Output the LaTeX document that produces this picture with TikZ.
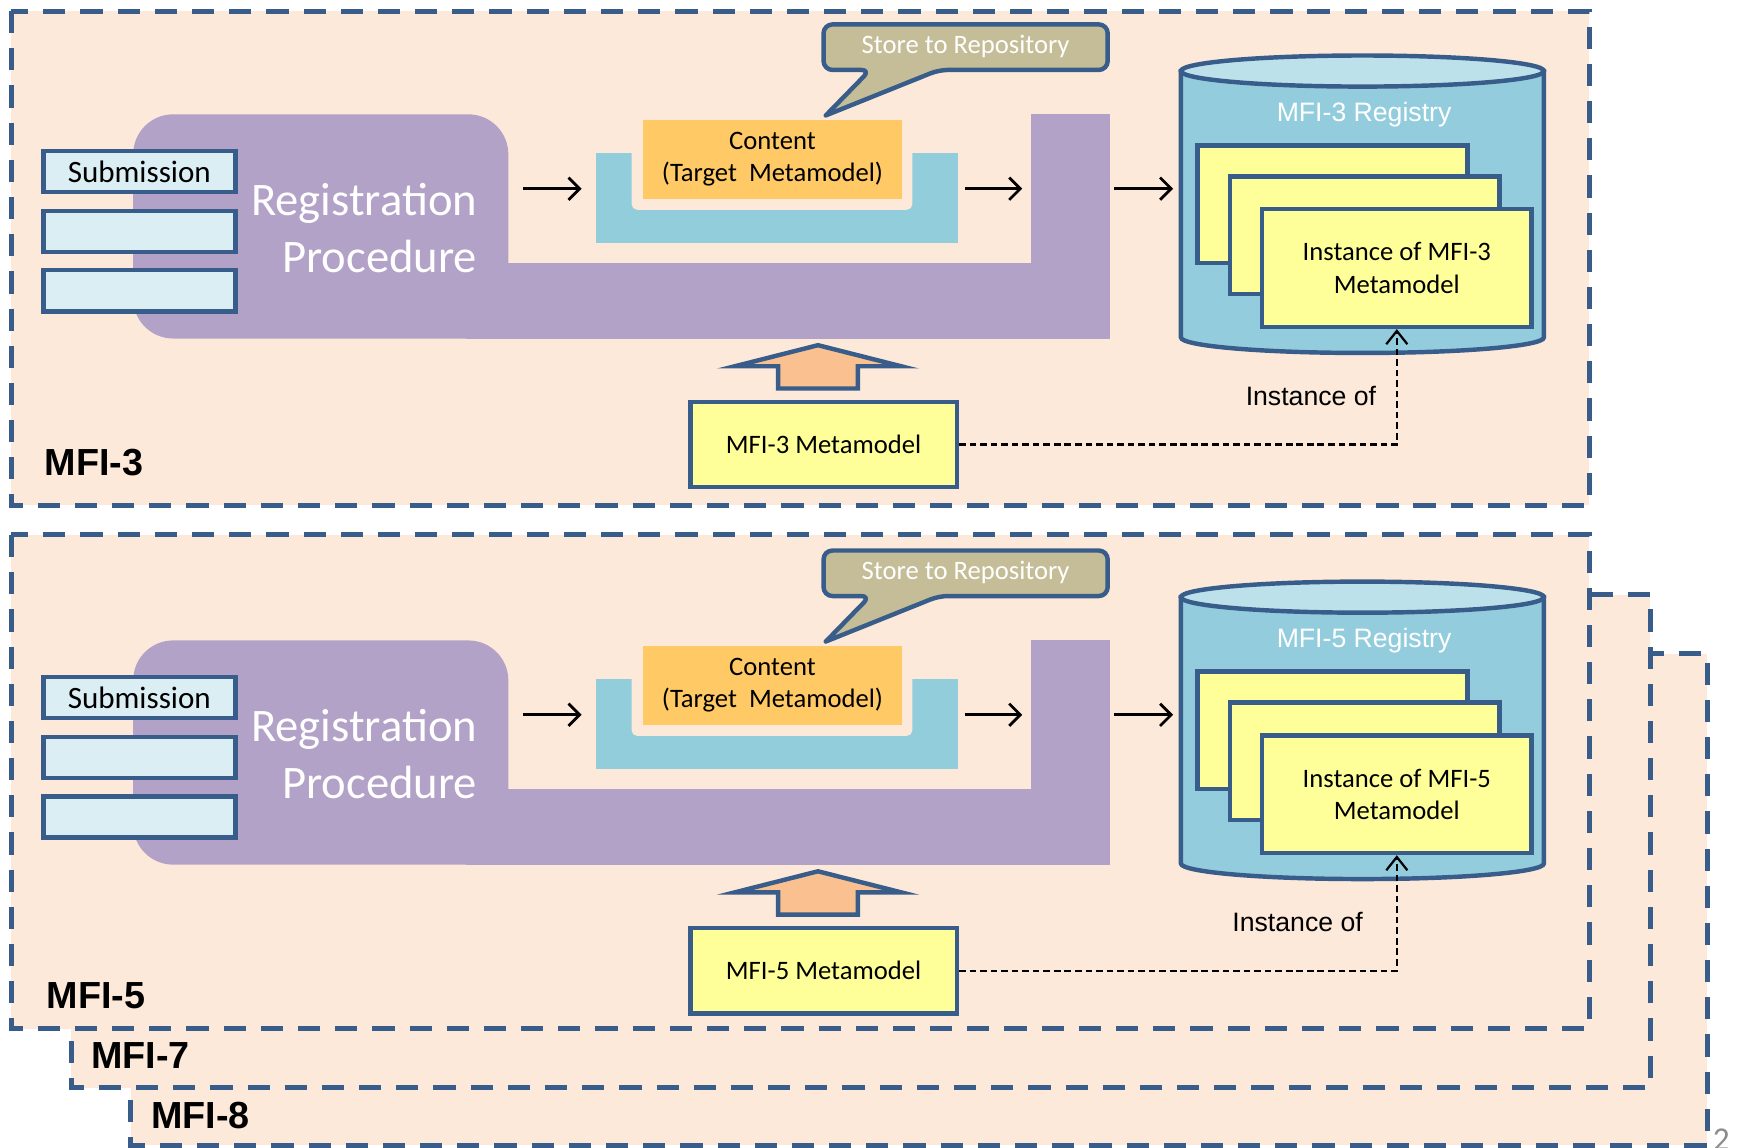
\documentclass[tikz,border=0pt]{standalone}
\usepackage{fontspec}
\setmainfont{Carlito}
\newfontfamily\arialf{Liberation Sans}
\usetikzlibrary{arrows.meta}
\definecolor{peach}{HTML}{FDE9D9}
\definecolor{bordblue}{HTML}{385D8A}
\definecolor{regpurple}{HTML}{B2A2C7}
\definecolor{subblue}{HTML}{DBEEF4}
\definecolor{ublue}{HTML}{92CDDC}
\definecolor{contorange}{HTML}{FFCA65}
\definecolor{callout}{HTML}{C4BD97}
\definecolor{yelbox}{HTML}{FFFF99}
\definecolor{arrorange}{HTML}{FAC090}
\definecolor{cylbody}{HTML}{93CDDD}
\definecolor{cyltop}{HTML}{BDE1EA}
\definecolor{pagegray}{HTML}{8C8C8C}
\tikzset{
  frame/.style={fill=peach, draw=bordblue, line width=4.5pt, dash pattern=on 20pt off 13.5pt},
  framelabel/.style={anchor=west, inner sep=0pt, font=\arialf\bfseries\fontsize{34}{40}\selectfont},
  subbox/.style={draw=bordblue, line width=4pt, fill=subblue, minimum width=173pt, minimum height=37pt, inner sep=0pt, font=\fontsize{28}{32}\selectfont},
  regtext/.style={anchor=east, align=right, inner sep=0pt, text=white, font=\fontsize{42}{51}\selectfont},
  contbox/.style={fill=contorange, minimum width=233pt, minimum height=71pt, inner sep=0pt, align=center, font=\fontsize{24}{29}\selectfont},
  storetext/.style={text=white, inner sep=0pt, font=\fontsize{24}{28}\selectfont},
  blkarrow/.style={line width=2.5pt, -{Straight Barb[length=10pt, width=20pt]}},
  cylshape/.style={fill=cylbody, draw=bordblue, line width=4pt},
  cyllabel/.style={text=white, inner sep=0pt, font=\arialf\fontsize{24}{28}\selectfont},
  instbox/.style={fill=yelbox, draw=bordblue, line width=4pt, minimum width=243pt, minimum height=106pt, inner sep=0pt, align=center, font=\fontsize{24}{29}\selectfont},
  metabox/.style={fill=yelbox, draw=bordblue, line width=4pt, minimum width=240pt, minimum height=77pt, inner sep=0pt, font=\fontsize{24}{28}\selectfont},
  blockarrow/.style={fill=arrorange, draw=bordblue, line width=4pt, line join=miter},
  dashconn/.style={line width=2pt, dash pattern=on 6pt off 3.5pt, -{Straight Barb[length=12pt, width=19pt]}},
  instlabel/.style={anchor=east, inner sep=0pt, font=\arialf\fontsize{24}{28}\selectfont}
}
\newcommand{\mfipanel}[4]{%
\begin{scope}[shift={(0,#1)}]
  % registration procedure shape
  \fill[regpurple, rounded corners=36pt] (120,103) rectangle (458,305);
  \fill[regpurple] (420,237) rectangle (1000,305);
  \fill[regpurple] (929,103) rectangle (1000,305);
  \node[regtext] (#2reg) at (430,205.5) {Registration\\Procedure};
  % submission boxes
  \node[subbox] (#2sub1) at (125.5,154.5) {Submission};
  \node[subbox] (#2sub2) at (125.5,208.5) {};
  \node[subbox] (#2sub3) at (125.5,262) {};
  % content tray
  \fill[ublue] (537,138) rectangle (863,219);
  \fill[peach, rounded corners=5pt] (569,120) rectangle (822,189);
  \node[contbox] (#2cont) at (696,143.5) {Content\\(Target\ \ Metamodel)};
  % callout
  \filldraw[fill=callout, draw=bordblue, line width=4pt, rounded corners=8pt, line cap=round, line join=round]
    (744,104) -- (784,63) -- (742,63) -- (742,22) -- (998,22) -- (998,63) -- (846,63) -- (744,104);
  \node[storetext] (#2store) at (870,42) {Store to Repository};
  % flow arrows
  \coordinate (#2a1s) at (471,170); \coordinate (#2a1e) at (524,170);
  \coordinate (#2a2s) at (869,170); \coordinate (#2a2e) at (921,170);
  \coordinate (#2a3s) at (1004,170); \coordinate (#2a3e) at (1057,170);
  \draw[blkarrow] (#2a1s) -- (#2a1e);
  \draw[blkarrow] (#2a2s) -- (#2a2e);
  \draw[blkarrow] (#2a3s) -- (#2a3e);
  % registry cylinder
  \filldraw[cylshape] (1064,64) -- (1064,304) arc[start angle=180, end angle=0, x radius=163.5, y radius=14] -- (1391,64) -- cycle;
  \filldraw[fill=cyltop, draw=bordblue, line width=4pt] (1227.5,64) ellipse[x radius=163.5, y radius=14];
  \node[cyllabel] (#2regy) at (1229,103) {MFI-#3 Registry};
  \node[instbox] (#2i1) at (1200.5,184) {};
  \node[instbox] (#2i2) at (1229.5,212) {};
  \node[instbox] (#2inst) at (1258.5,241.5) {Instance of MFI-#3\\Metamodel};
  % block arrow
  \filldraw[blockarrow] (737,311) -- (812,330) -- (773,330) -- (773,350) -- (701,350) -- (701,330) -- (662,330) -- cycle;
  \node[metabox] (#2meta) at (742,400.5) {MFI-#3 Metamodel};
  \draw[dashconn] (#2meta.east) -| (#2inst.south);
  \node[instlabel] (#2instof) at (#4,357) {Instance of};
\end{scope}}
\begin{document}
\begin{tikzpicture}[x=1pt,y=-1pt]
  \useasboundingbox (0,0) rectangle (1565,1034.3);
  % top frame
  \draw[frame] (10,10) rectangle (1432,455);
  \mfipanel{0}{t}{3}{1240}
  \node[framelabel] (lab3) at (40,416.5) {MFI-3};
  % stacked frames
  \draw[frame] (118,589) rectangle (1538,1032);
  \node[framelabel] (lab8) at (136,1005) {MFI-8};
  \draw[frame] (64,536) rectangle (1487,980);
  \node[framelabel] (lab7) at (82,951) {MFI-7};
  \draw[frame] (10,482) rectangle (1432,927);
  \node[framelabel] (lab5) at (42,897) {MFI-5};
  \mfipanel{474}{b}{5}{1228}
  \node[anchor=north west, inner sep=0pt, text=pagegray, font=\fontsize{30}{34}\selectfont] (pagenum) at (1543,1017) {2};
\end{tikzpicture}
\end{document}
